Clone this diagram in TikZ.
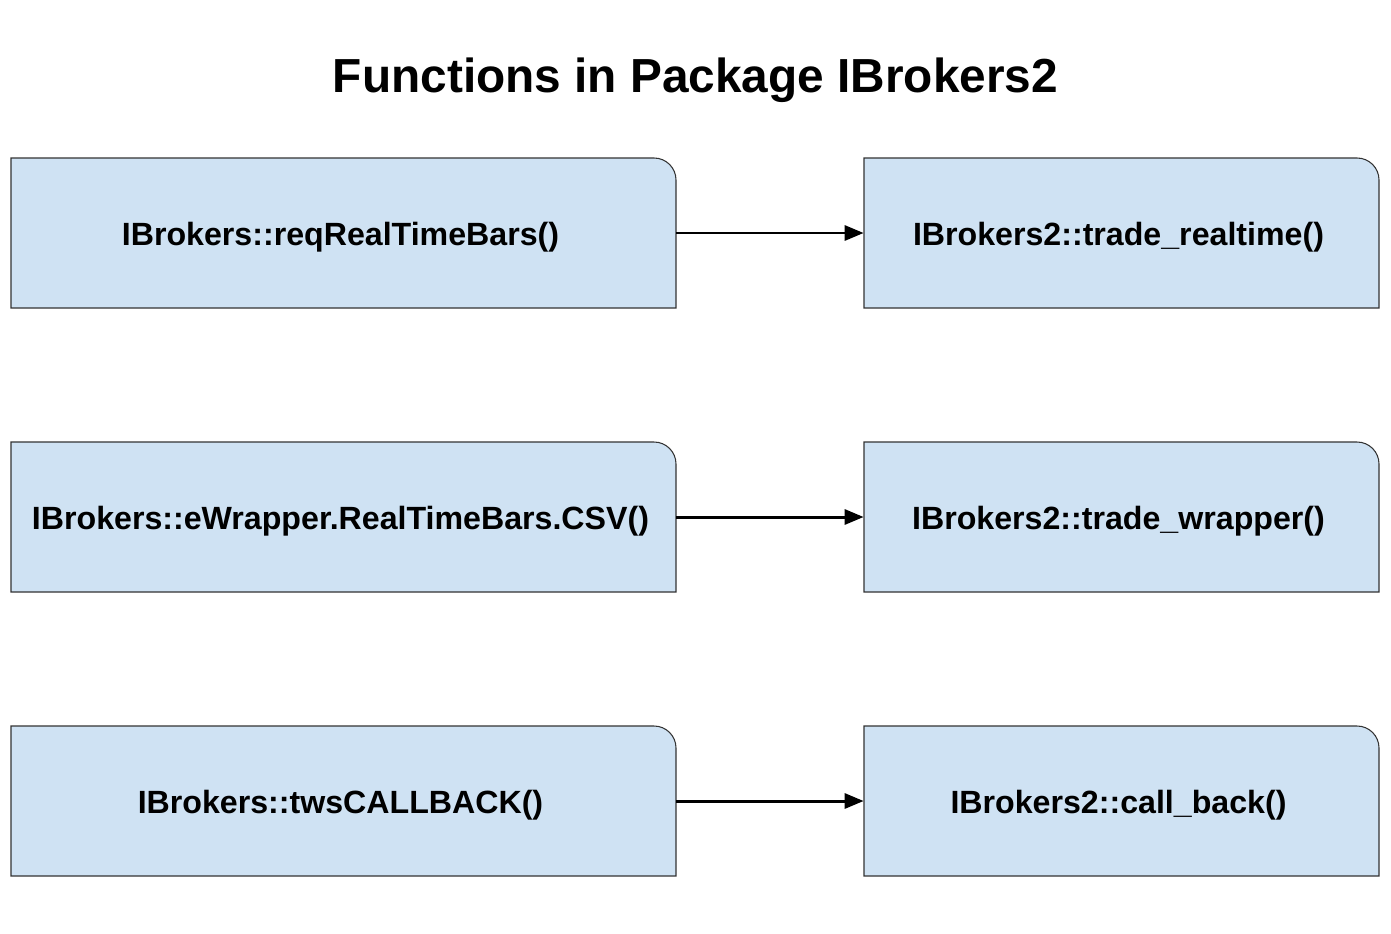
\documentclass[tikz,border=0pt]{standalone}
\usepackage{fontspec}
\setmainfont{Liberation Sans}
\usetikzlibrary{arrows.meta, calc, positioning}
\definecolor{boxblue}{HTML}{CFE2F3}
\tikzset{
  fnshape/.style = {draw=black!80, fill=boxblue, line width=0.6pt},
  fnlbl/.style   = {font=\bfseries\fontsize{18.3}{22}\selectfont, inner sep=0pt,
                    minimum height=3cm},
  link/.style    = {-{Triangle[length=3.8mm, width=3mm]}, line width=1.7pt, black},
  ttl/.style     = {font=\bfseries\fontsize{27.2}{32}\selectfont, inner sep=0pt},
}
% name, left, top, right, bottom, text  (pixel coordinates, y downwards)
\newcommand{\funcbox}[6]{%
  \pgfmathsetmacro{\bw}{0.02*(#4-#2)}
  \draw[fnshape] (#2,#5) -- (#2,#3) -- (#4-22,#3)
    arc[start angle=90, end angle=0, radius=0.44cm] -- (#4,#5) -- cycle;
  \node[fnlbl, minimum width=\bw cm] (#1) at ({(#2+#4)/2},{(#3+#5)/2})
    {\kern-0.12cm\raisebox{-0.09cm}[\height][\depth]{#6}};
}

\begin{document}
\begin{tikzpicture}[x=0.02cm, y=-0.02cm]
  \useasboundingbox (0,0) rectangle (1391,933);
  \node[ttl, anchor=base] (title) at (695.5,92) {Functions in Package IBrokers2};
  % left column
  \funcbox{req}{11}{158}{676}{308}{IBrokers::reqRealTimeBars()}
  \funcbox{ewrap}{11}{442}{676}{592}{IBrokers::eWrapper.RealTimeBars.CSV()}
  \funcbox{tws}{11}{726}{676}{876}{IBrokers::twsCALLBACK()}
  % right column
  \funcbox{trt}{864}{158}{1379}{308}{IBrokers2::trade\_realtime()}
  \funcbox{twr}{864}{442}{1379}{592}{IBrokers2::trade\_wrapper()}
  \funcbox{cb}{864}{726}{1379}{876}{IBrokers2::call\_back()}
  \draw[link] (req.east) -- (trt.west);
  \draw[link] (ewrap.east) -- (twr.west);
  \draw[link] (tws.east) -- (cb.west);
\end{tikzpicture}
\end{document}
